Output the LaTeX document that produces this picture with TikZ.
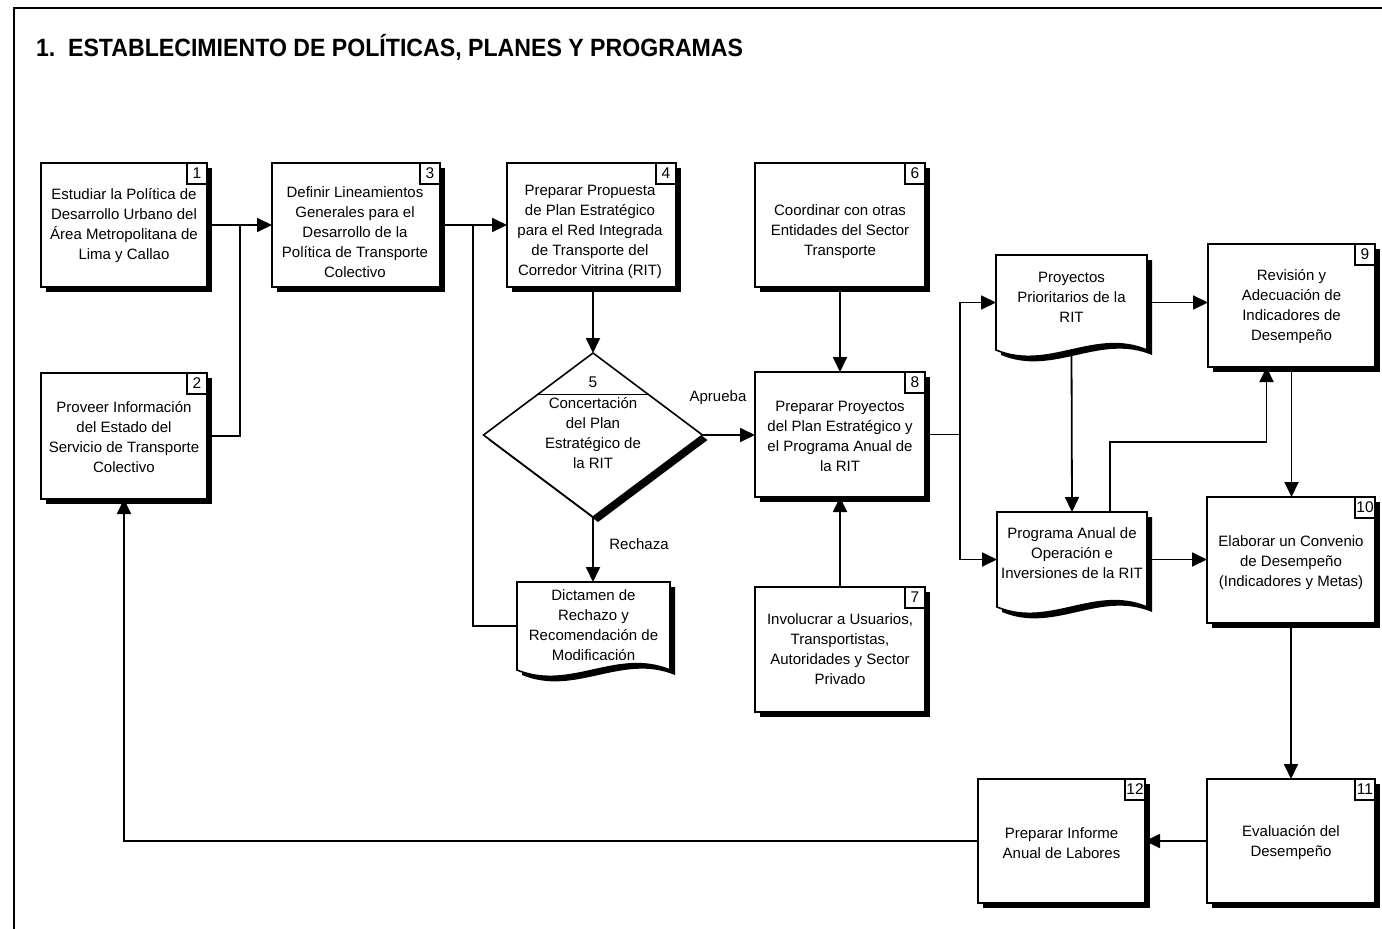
\documentclass[tikz,border=0pt]{standalone}
\usepackage{fontspec}
\setmainfont{Liberation Sans}
\newfontfamily\titlefont[FakeStretch=0.925]{Liberation Sans}
\usetikzlibrary{arrows.meta,shapes.geometric,shadows,calc}

\begin{document}
\begin{tikzpicture}[x=1pt,y=-1pt,
  every node/.style={inner sep=0pt, outer sep=0pt},
  boxshadow/.style={drop shadow={shadow xshift=5pt,shadow yshift=-5pt,opacity=1,fill=black}},
  box/.style={draw, line width=1.6pt, fill=white, boxshadow},
  ghost/.style={rectangle},
  txt/.style={align=center, font=\fontsize{15}{20}\selectfont},
  tab/.style={draw, line width=1.3pt, fill=white, minimum width=20pt, minimum height=21pt,
              font=\fontsize{15.5}{15.5}\selectfont, anchor=north east},
  link/.style={line width=1.8pt},
  arr/.style={link, -{Triangle[length=15pt,width=14pt]}},
]
\useasboundingbox (0,0) rectangle (1382,929);

% frame and heading
\draw[line width=1.8pt] (14,929) -- (14,8) -- (1382,8);
\node[anchor=west, font=\titlefont\bfseries\fontsize{25}{25}\selectfont] (title) at (36,47)
  {1.\ \ ESTABLECIMIENTO DE POLÍTICAS, PLANES Y PROGRAMAS};

% process boxes
\node[box, minimum width=166pt, minimum height=124pt] (b1) at (124,225) {};
\node[box, minimum width=166pt, minimum height=126pt] (b2) at (124,436) {};
\node[box, minimum width=168pt, minimum height=124pt] (b3) at (356,225) {};
\node[box, minimum width=169pt, minimum height=124pt] (b4) at (591.5,225) {};
\node[box, minimum width=170pt, minimum height=124pt] (b6) at (840,225) {};
\node[box, minimum width=170pt, minimum height=125pt] (b8) at (840,434.5) {};
\node[box, minimum width=170pt, minimum height=125pt] (b7) at (840,649.5) {};
\node[box, minimum width=167pt, minimum height=123pt] (b9) at (1291.5,305.5) {};
\node[box, minimum width=168pt, minimum height=126pt] (b10) at (1291,560) {};
\node[box, minimum width=168pt, minimum height=124pt] (b11) at (1291,841) {};
\node[box, minimum width=167pt, minimum height=124pt] (b12) at (1061.5,841) {};

% document shapes (wavy lower edge)
\node[ghost, minimum width=153pt, minimum height=88pt] (dict) at (593.5,626) {};
\node[ghost, minimum width=151pt, minimum height=95pt] (proy) at (1071.5,302.5) {};
\node[ghost, minimum width=150pt, minimum height=95pt] (prog) at (1072,559.5) {};
\foreach \d in {dict,proy,prog}{
  \path[draw, line width=1.6pt, fill=white, boxshadow]
    (\d.north west) -- (\d.north east) -- (\d.south east)
    .. controls ($(\d.south east)!0.35!(\d.south west)+(0,-22)$)
    and ($(\d.south east)!0.65!(\d.south west)+(0,22)$) .. (\d.south west) -- cycle;
}

% decision
\node[draw, diamond, minimum width=219pt, minimum height=164pt, line width=1.6pt,
      fill=white, boxshadow] (d5) at (593,435) {};
\draw[line width=1.3pt] ($(d5.north)!0.51!(d5.west)$) -- ($(d5.north)!0.51!(d5.east)$);
\node[font=\fontsize{15.5}{15.5}\selectfont] (n5) at (593,382) {5};

% number tabs
\node[tab] (n1) at (b1.north east) {1};
\node[tab] (n2) at (b2.north east) {2};
\node[tab] (n3) at (b3.north east) {3};
\node[tab] (n4) at (b4.north east) {4};
\node[tab] (n6) at (b6.north east) {6};
\node[tab] (n7) at (b7.north east) {7};
\node[tab] (n8) at (b8.north east) {8};
\node[tab] (n9) at (b9.north east) {9};
\node[tab] (n10) at (b10.north east) {10};
\node[tab] (n11) at (b11.north east) {11};
\node[tab] (n12) at (b12.north east) {12};

% texts
\node[txt] (t1) at (124,226) {Estudiar la Política de\\Desarrollo Urbano del\\Área Metropolitana de\\Lima y Callao};
\node[txt] (t2) at (124,437) {Proveer Información\\del Estado del\\Servicio de Transporte\\Colectivo};
\node[txt] (t3) at (355,232) {Definir Lineamientos\\Generales para el\\Desarrollo de la\\Política de Transporte\\Colectivo};
\node[txt] (t4) at (590,232) {Preparar Propuesta\\de Plan Estratégico\\para el Red Integrada\\de Transporte del\\Corredor Vitrina (RIT)};
\node[txt] (t6) at (840,232) {Coordinar con otras\\Entidades del Sector\\Transporte};
\node[txt] (t8) at (840,436) {Preparar Proyectos\\del Plan Estratégico y\\el Programa Anual de\\la RIT};
\node[txt] (t7) at (840,649) {Involucrar a Usuarios,\\Transportistas,\\Autoridades y Sector\\Privado};
\node[txt] (t5) at (593,433) {Concertación\\del Plan\\Estratégico de\\la RIT};
\node[txt] (td) at (593.5,625) {Dictamen de\\Rechazo y\\Recomendación de\\Modificación};
\node[txt] (tp) at (1071.5,297) {Proyectos\\Prioritarios de la\\RIT};
\node[txt] (tq) at (1072,553) {Programa Anual de\\Operación e\\Inversiones de la RIT};
\node[txt] (t9) at (1291.5,307) {Revisión y\\Adecuación de\\Indicadores de\\Desempeño};
\node[txt] (t10) at (1291,563) {Elaborar un Convenio\\de Desempeño\\(Indicadores y Metas)};
\node[txt] (t11) at (1291,843) {Evaluación del\\Desempeño};
\node[txt] (t12) at (1061.5,843) {Preparar Informe\\Anual de Labores};
\node[txt] (lap) at (718,398) {Aprueba};
\node[txt] (lre) at (639,544) {Rechaza};

% connectors
\coordinate (j1) at (240,225);
\coordinate (j2) at (473,225);
\coordinate (s8) at (960,434.5);
\coordinate (p9) at (1110,442);
\draw[arr] (b1.east) -- (b3.west);
\draw[link] (b2.east) -| (j1);
\draw[arr] (b3.east) -- (b4.west);
\draw[link] (dict.west) -| (j2);
\draw[arr] (b4.south -| d5.north) -- (d5.north);
\draw[arr] (d5.east) -- (d5.east -| b8.west);
\draw[arr] (d5.south) -- (d5.south |- dict.north);
\draw[arr] (b6.south) -- (b8.north);
\draw[arr] (b7.north) -- (b8.south);
\draw[link] (b8.east) -- (s8);
\draw[arr] (s8) |- (proy.west);
\draw[arr] (s8) |- (prog.west);
\draw[arr] (proy.east) -- (proy.east -| b9.west);
\draw[arr] (proy.south) -- (prog.north);
\draw[arr] (prog.north -| p9) -- (p9) -| ([xshift=-25pt]b9.south);
\draw[arr] (b9.south) -- (b9.south |- b10.north);
\draw[arr] (prog.east) -- (prog.east -| b10.west);
\draw[arr] (b10.south) -- (b10.south |- b11.north);
\draw[arr] (b11.west) -- (b12.east);
\draw[arr] (b12.west) -| (b2.south);
\end{tikzpicture}
\end{document}
